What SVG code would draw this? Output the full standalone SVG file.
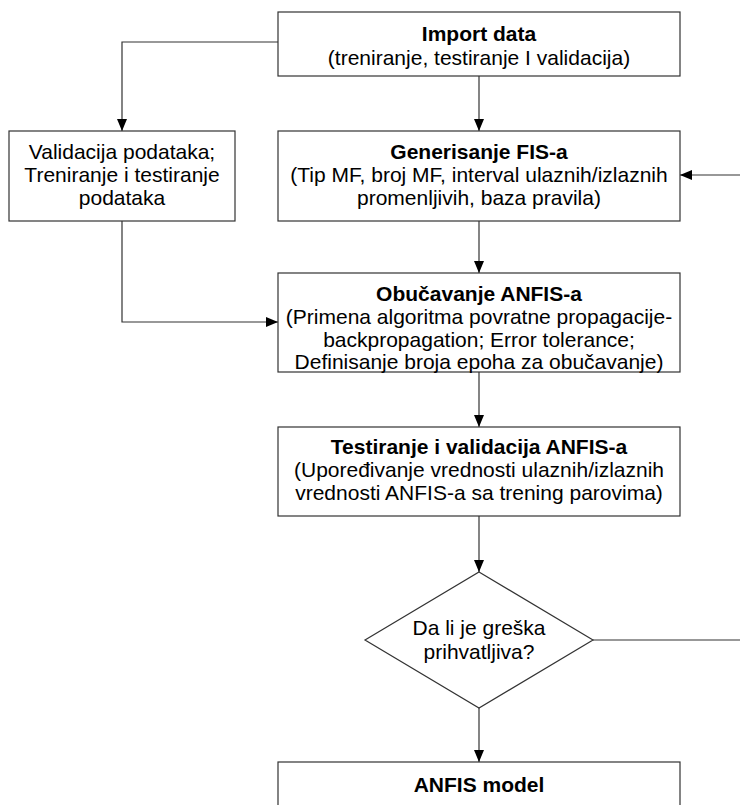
<svg xmlns="http://www.w3.org/2000/svg" width="740" height="805" viewBox="0 0 740 805">
<style>
.box{fill:#fff;stroke:#333;stroke-width:1.2}
.ln{fill:none;stroke:#333;stroke-width:1.2}
text{font-family:"Liberation Sans",Arial,sans-serif;font-size:21px;fill:#000;text-anchor:middle}
.b{font-weight:bold}
</style>
<defs>
<marker id="arr" viewBox="0 0 12 10" refX="12" refY="5" markerWidth="12" markerHeight="10" markerUnits="userSpaceOnUse" orient="auto">
<path d="M0,0 L12,5 L0,10 Z" fill="#000"/>
</marker>
</defs>
<g id="connectors">
<path class="ln" d="M278,42 H122 V131" marker-end="url(#arr)"/>
<path class="ln" d="M479,76 V131" marker-end="url(#arr)"/>
<path class="ln" d="M740,175 H680" marker-end="url(#arr)"/>
<path class="ln" d="M479,221 V273" marker-end="url(#arr)"/>
<path class="ln" d="M122,221 V322 H278" marker-end="url(#arr)"/>
<path class="ln" d="M479,372 V427" marker-end="url(#arr)"/>
<path class="ln" d="M479,516 V572" marker-end="url(#arr)"/>
<path class="ln" d="M593,640 H740"/>
<path class="ln" d="M479,708 V762" marker-end="url(#arr)"/>
</g>
<g id="import">
<rect class="box" x="278" y="12" width="402" height="64"/>
<text class="b" x="479" y="41">Import data</text>
<text x="479" y="65">(treniranje, testiranje I validacija)</text>
</g>
<g id="validacija">
<rect class="box" x="9" y="131" width="226" height="90"/>
<text x="122" y="159">Validacija podataka;</text>
<text x="122" y="182">Treniranje i testiranje</text>
<text x="122" y="205">podataka</text>
</g>
<g id="generisanje">
<rect class="box" x="278" y="131" width="402" height="90"/>
<text class="b" x="479" y="159">Generisanje FIS-a</text>
<text x="479" y="182">(Tip MF, broj MF, interval ulaznih/izlaznih</text>
<text x="479" y="205">promenljivih, baza pravila)</text>
</g>
<g id="obucavanje">
<rect class="box" x="278" y="273" width="402" height="99"/>
<text class="b" x="479" y="301">Obučavanje ANFIS-a</text>
<text x="479" y="324">(Primena algoritma povratne propagacije-</text>
<text x="479" y="347">backpropagation; Error tolerance;</text>
<text x="479" y="369">Definisanje broja epoha za obučavanje)</text>
</g>
<g id="testiranje">
<rect class="box" x="278" y="427" width="402" height="89"/>
<text class="b" x="479" y="454">Testiranje i validacija ANFIS-a</text>
<text x="479" y="477">(Upoređivanje vrednosti ulaznih/izlaznih</text>
<text x="479" y="500">vrednosti ANFIS-a sa trening parovima)</text>
</g>
<g id="odluka">
<polygon class="box" points="479,572 593,640 479,708 365,640"/>
<text x="479" y="635">Da li je greška</text>
<text x="479" y="659">prihvatljiva?</text>
</g>
<g id="model">
<rect class="box" x="278" y="762" width="402" height="80"/>
<text class="b" x="479" y="792">ANFIS model</text>
</g>
</svg>
